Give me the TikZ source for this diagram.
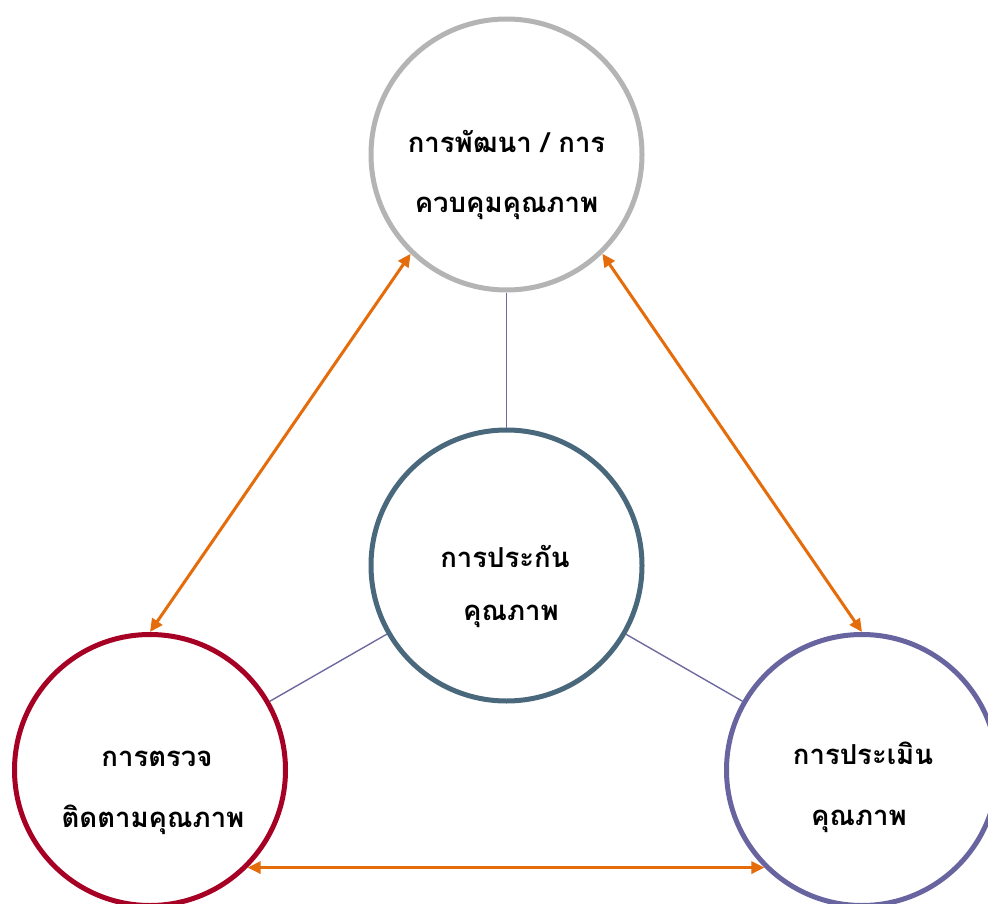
\documentclass[tikz,border=0pt]{standalone}
\usepackage{fontspec}
\newfontfamily\thaifont[Script=Thai]{Loma}
\usetikzlibrary{arrows.meta}
\definecolor{cgray}{RGB}{180,180,180}
\definecolor{cteal}{RGB}{74,104,124}
\definecolor{cred}{RGB}{166,0,36}
\definecolor{cpurple}{RGB}{104,100,160}
\definecolor{cline}{RGB}{110,106,160}
\definecolor{corange}{RGB}{228,108,10}
\tikzset{
  ring/.style={circle, minimum size=271pt, inner sep=0pt, line width=5pt, fill=white},
  link/.style={draw=cline, line width=1.4pt},
  twoway/.style={draw=corange, line width=3pt, {Triangle[length=13pt,width=12pt]}-{Triangle[length=13pt,width=12pt]}},
  lbl/.style={anchor=base, inner sep=0pt, font=\thaifont\bfseries\fontsize{27.5}{32}\selectfont, text=black}
}
\begin{document}
\begin{tikzpicture}[x=1pt,y=-1pt]
\useasboundingbox (0,0) rectangle (988,904);
\node[ring, draw=cgray] (top) at (506.5,154.5) {};
\node[ring, draw=cteal] (mid) at (506.5,565.5) {};
\node[ring, draw=cred] (left) at (150,770) {};
\node[ring, draw=cpurple] (right) at (862,770) {};
\draw[link] (top) -- (mid);
\draw[link] (mid) -- (left);
\draw[link] (mid) -- (right);
\draw[twoway] (top.226) -- (left.90);
\draw[twoway] (top.314) -- (right.90);
\draw[twoway] (left.-45) -- (right.225);
\node[lbl] (t1) at (506.5,153) {การพัฒนา / การ};
\node[lbl] (t2) at (506.5,213) {ควบคุมคุณภาพ};
\node[lbl] (m1) at (505,567) {การประกัน};
\node[lbl] (m2) at (511,620) {คุณภาพ};
\node[lbl] (l1) at (157,766) {การตรวจ};
\node[lbl] (l2) at (153,827) {ติดตามคุณภาพ};
\node[lbl] (r1) at (863,764) {การประเมิน};
\node[lbl] (r2) at (859,825) {คุณภาพ};
\end{tikzpicture}
\end{document}
